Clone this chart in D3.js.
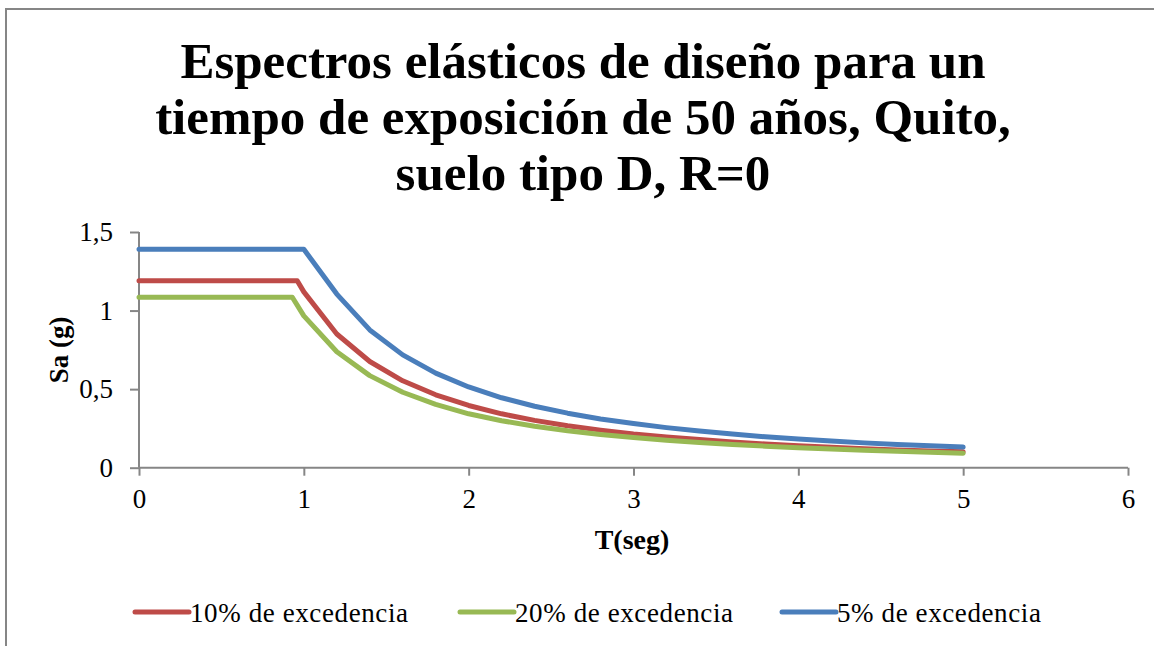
<!DOCTYPE html>
<html>
<head>
<meta charset="utf-8">
<script src="https://cdnjs.cloudflare.com/ajax/libs/d3/7.8.5/d3.min.js"></script>
<style>
  html, body { margin: 0; padding: 0; background: #fff; }
  svg { display: block; font-family: "Liberation Serif", "Times New Roman", serif; }
</style>
</head>
<body>
<div id="chart"></div>
<script>
const titleLines = [
  'Espectros elásticos de diseño para un',
  'tiempo de exposición de 50 años, Quito,',
  'suelo tipo D, R=0'
];
const xLabel = 'T(seg)';
const yLabel = 'Sa (g)';
const xTicks = [0, 1, 2, 3, 4, 5, 6];
const yTicks = [0, 0.5, 1, 1.5];

// periodo T (seg) por serie
const tRed   = [0, 0.96, 1.0, 1.2, 1.4, 1.6, 1.8, 2.0, 2.2, 2.4, 2.6, 2.8, 3.0, 3.2, 3.4, 3.6, 3.8, 4.0, 4.2, 4.4, 4.6, 4.8, 5.0];
const tGreen = [0, 0.93, 1.0, 1.2, 1.4, 1.6, 1.8, 2.0, 2.2, 2.4, 2.6, 2.8, 3.0, 3.2, 3.4, 3.6, 3.8, 4.0, 4.2, 4.4, 4.6, 4.8, 5.0];
const tBlue  = [0, 1.0, 1.2, 1.4, 1.6, 1.8, 2.0, 2.2, 2.4, 2.6, 2.8, 3.0, 3.2, 3.4, 3.6, 3.8, 4.0, 4.2, 4.4, 4.6, 4.8, 5.0];

// Sa (g)
const saRed   = [1.19, 1.19, 1.119, 0.851, 0.676, 0.553, 0.464, 0.396, 0.343, 0.301, 0.267, 0.239, 0.215, 0.196, 0.179, 0.164, 0.151, 0.140, 0.130, 0.121, 0.113, 0.106, 0.101];
const saGreen = [1.085, 1.085, 0.966, 0.738, 0.586, 0.480, 0.403, 0.343, 0.299, 0.264, 0.235, 0.211, 0.192, 0.175, 0.160, 0.148, 0.137, 0.127, 0.119, 0.111, 0.104, 0.098, 0.092];
const saBlue  = [1.39, 1.39, 1.105, 0.877, 0.718, 0.602, 0.514, 0.445, 0.391, 0.347, 0.310, 0.281, 0.255, 0.233, 0.214, 0.197, 0.183, 0.170, 0.158, 0.148, 0.139, 0.131];

const seriesNames = ['10% de excedencia', '20% de excedencia', '5% de excedencia'];

const series = [
  { name: seriesNames[0], t: tRed,   sa: saRed,   color: '#BE4B48' },
  { name: seriesNames[1], t: tGreen, sa: saGreen, color: '#98B954' },
  { name: seriesNames[2], t: tBlue,  sa: saBlue,  color: '#4A7EBB' }
];

const width = 1154, height = 646;
const axisColor = '#868686';

const svg = d3.select('#chart').append('svg')
  .attr('width', width).attr('height', height);

// marco del gráfico
svg.append('path')
  .attr('d', `M6,${height} L6,9 L${width},9`)
  .attr('fill', 'none').attr('stroke', axisColor).attr('stroke-width', 2);

// título
svg.append('g').selectAll('text').data(titleLines).enter().append('text')
  .attr('x', 583)
  .attr('y', (d, i) => 78 + i * 56)
  .attr('text-anchor', 'middle')
  .style('font-size', '51px')
  .style('font-weight', 'bold')
  .text(d => d);

const x = d3.scaleLinear().domain([0, 6]).range([139, 1128]);
const y = d3.scaleLinear().domain([0, 1.5]).range([467.7, 232]);

const fmt = d3.formatLocale({ decimal: ',', thousands: '.', grouping: [3], currency: ['', ''] }).format('~g');

const gx = svg.append('g')
  .attr('transform', `translate(0,${y(0)})`)
  .call(d3.axisBottom(x).tickValues(xTicks).tickSize(8).tickPadding(13).tickFormat(fmt));
const gy = svg.append('g')
  .attr('transform', `translate(${x(0)},0)`)
  .call(d3.axisLeft(y).tickValues(yTicks).tickSize(9).tickPadding(17).tickFormat(fmt));

[gx, gy].forEach(g => {
  g.select('.domain').attr('stroke', axisColor).attr('stroke-width', 2);
  g.selectAll('.tick line').attr('stroke', axisColor).attr('stroke-width', 2);
  g.selectAll('.tick text')
    .attr('fill', '#000')
    .style('font-family', '"Liberation Serif", serif')
    .style('font-size', '27px');
});
gx.select('.domain').attr('d', `M${x(0)},0H${x(6)}`);
gy.select('.domain').attr('d', `M0,${y(0)}V${y(1.5)}`);

// títulos de ejes
svg.append('text')
  .attr('x', 632).attr('y', 549)
  .attr('text-anchor', 'middle')
  .style('font-size', '28px').style('font-weight', 'bold')
  .text(xLabel);

svg.append('text')
  .attr('transform', `translate(68,${(y(0) + y(1.5)) / 2}) rotate(-90)`)
  .attr('text-anchor', 'middle')
  .style('font-size', '27px').style('font-weight', 'bold')
  .text(yLabel);

// curvas
const line = d3.line().x(d => x(d[0])).y(d => y(d[1]));
svg.append('g').selectAll('path').data(series).enter().append('path')
  .attr('d', s => line(s.t.map((t, i) => [t, s.sa[i]])))
  .attr('fill', 'none')
  .attr('stroke', d => d.color)
  .attr('stroke-width', 5)
  .attr('stroke-linejoin', 'round')
  .attr('stroke-linecap', 'round');

// leyenda
const legend = svg.append('g');
const legendX = [135, 460, 782];
series.forEach((s, i) => {
  const lg = legend.append('g').attr('transform', `translate(${legendX[i]},612)`);
  lg.append('line')
    .attr('x1', 0).attr('x2', 54).attr('y1', 0).attr('y2', 0)
    .attr('stroke', s.color).attr('stroke-width', 5).attr('stroke-linecap', 'round');
  lg.append('text')
    .attr('x', 55).attr('y', 10)
    .style('font-size', '27px')
    .style('letter-spacing', '0.6px')
    .text(s.name);
});
</script>
</body>
</html>
